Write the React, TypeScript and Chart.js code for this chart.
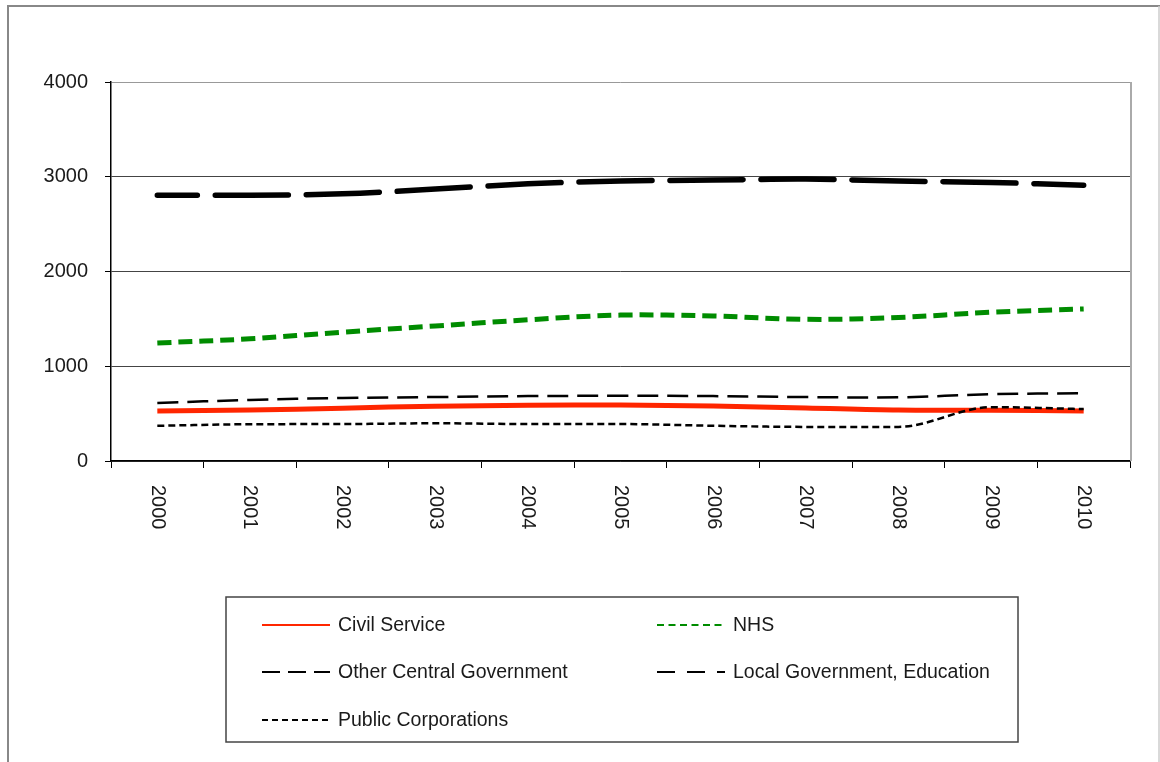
import React, { useEffect, useRef } from "react";
import { Chart, registerables } from "chart.js";

Chart.register(...registerables);

const years = ["2000", "2001", "2002", "2003", "2004", "2005", "2006", "2007", "2008", "2009", "2010"];
const civilService = [528, 538, 558, 578, 588, 590, 580, 560, 538, 536, 528];
const nhs = [1245, 1290, 1360, 1425, 1490, 1540, 1530, 1495, 1515, 1570, 1605];
const otherCentral = [612, 645, 665, 675, 685, 688, 685, 675, 672, 705, 715];
const localGov = [2805, 2805, 2820, 2870, 2925, 2955, 2965, 2975, 2955, 2940, 2910];
const publicCorps = [372, 388, 390, 398, 390, 390, 372, 360, 360, 568, 548];
const yTicks = [0, 1000, 2000, 3000, 4000];

const FONT = "'Liberation Sans', Arial, sans-serif";

export default function App() {
  const ref = useRef<HTMLCanvasElement>(null);
  useEffect(() => {
    document.body.style.margin = "0";
    const canvas = ref.current!;
    const legendItems = [
      { label: "Civil Service", color: "#ff2600", dash: [] as number[], col: 0, row: 0 },
      { label: "NHS", color: "#008c00", dash: [7, 4.5], col: 1, row: 0 },
      { label: "Other Central Government", color: "#000", dash: [18, 8], col: 0, row: 1 },
      { label: "Local Government, Education", color: "#000", dash: [18, 12], col: 1, row: 1 },
      { label: "Public Corporations", color: "#000", dash: [6, 4], col: 0, row: 2 },
    ];
    const decor = {
      id: "decor",
      beforeDraw(chart: any) {
        const ctx = chart.ctx;
        ctx.save();
        ctx.fillStyle = "#fff";
        ctx.fillRect(0, 0, chart.width, chart.height);
        ctx.strokeStyle = "#888";
        ctx.lineWidth = 2;
        ctx.beginPath();
        ctx.moveTo(8, 762);
        ctx.lineTo(8, 6);
        ctx.lineTo(1160, 6);
        ctx.stroke();
        ctx.strokeStyle = "#ccc";
        ctx.lineWidth = 1.5;
        ctx.beginPath();
        ctx.moveTo(1159, 6);
        ctx.lineTo(1159, 762);
        ctx.stroke();
        ctx.restore();
      },
      afterDraw(chart: any) {
        const ctx = chart.ctx;
        const area = chart.chartArea;
        const xs = chart.scales.x;
        ctx.save();
        ctx.strokeStyle = "#aaa";
        ctx.lineWidth = 2;
        ctx.beginPath();
        ctx.moveTo(area.right + 1, area.top);
        ctx.lineTo(area.right + 1, area.bottom);
        ctx.stroke();
        ctx.fillStyle = "#1a1a1a";
        ctx.font = `20px ${FONT}`;
        ctx.textAlign = "left";
        ctx.textBaseline = "middle";
        years.forEach((y, i) => {
          const x = xs.getPixelForValue(i);
          ctx.save();
          ctx.translate(x, area.bottom + 24);
          ctx.rotate(Math.PI / 2);
          ctx.fillText(y, 0, 0);
          ctx.restore();
        });
        ctx.strokeStyle = "#444";
        ctx.lineWidth = 1.5;
        ctx.strokeRect(226, 597, 792, 145);
        const colX = [262, 657];
        const rowY = [625, 672, 720];
        ctx.lineWidth = 2;
        ctx.font = `19.5px ${FONT}`;
        legendItems.forEach((it) => {
          const x0 = colX[it.col];
          const y0 = rowY[it.row];
          ctx.strokeStyle = it.color;
          ctx.setLineDash(it.dash);
          ctx.beginPath();
          ctx.moveTo(x0, y0);
          ctx.lineTo(x0 + 68, y0);
          ctx.stroke();
          ctx.setLineDash([]);
          ctx.fillStyle = "#1a1a1a";
          ctx.fillText(it.label, x0 + 76, y0 + 1);
        });
        ctx.restore();
      },
    };
    const chart = new Chart(canvas, {
      type: "line",
      data: {
        labels: years,
        datasets: [
          { label: "Civil Service", data: civilService, borderColor: "#ff2600", borderWidth: 5, order: 5 },
          { label: "NHS", data: nhs, borderColor: "#008c00", borderWidth: 5, borderDash: [14, 7], order: 4 },
          { label: "Other Central Government", data: otherCentral, borderColor: "#000", borderWidth: 2.5, borderDash: [21, 9], order: 3 },
          { label: "Local Government, Education", data: localGov, borderColor: "#000", borderWidth: 5.5, borderDash: [73, 18], borderDashOffset: 33, borderCapStyle: "round", order: 2 },
          { label: "Public Corporations", data: publicCorps, borderColor: "#000", borderWidth: 2.5, borderDash: [7, 4], cubicInterpolationMode: "monotone", order: 1 },
        ] as any,
      },
      options: {
        animation: false,
        responsive: false,
        layout: { padding: { top: 82, right: 30, left: 0, bottom: 0 } },
        elements: { point: { radius: 0 }, line: { tension: 0.35, fill: false } },
        plugins: { legend: { display: false }, tooltip: { enabled: false } },
        scales: {
          x: {
            offset: true,
            grid: { offset: true, drawOnChartArea: false, drawTicks: true, tickLength: 7, tickColor: "#000", color: "#000" },
            border: { color: "#000", width: 1.5 },
            ticks: { display: false },
            afterFit: (s: any) => { s.height = 301; },
          },
          y: {
            min: 0,
            max: 4000,
            afterBuildTicks: (s: any) => { s.ticks = yTicks.map((v) => ({ value: v })); },
            grid: {
              color: (c: any) => (c.tick && c.tick.value === 4000 ? "#999" : "#444"),
              tickColor: "#000",
              tickLength: 6,
              lineWidth: 1,
            },
            border: { color: "#000", width: 1.5 },
            ticks: {
              color: "#1a1a1a",
              font: { family: FONT, size: 20 },
              padding: 17,
              callback: (v: any) => String(v),
            },
            afterFit: (s: any) => { s.width = 111; },
          },
        },
      },
      plugins: [decor],
    });
    return () => chart.destroy();
  }, []);
  return (
    <div style={{ position: "absolute", left: 0, top: 0, width: 1160, height: 762 }}>
      <canvas ref={ref} width={1160} height={762} style={{ display: "block" }} />
    </div>
  );
}
